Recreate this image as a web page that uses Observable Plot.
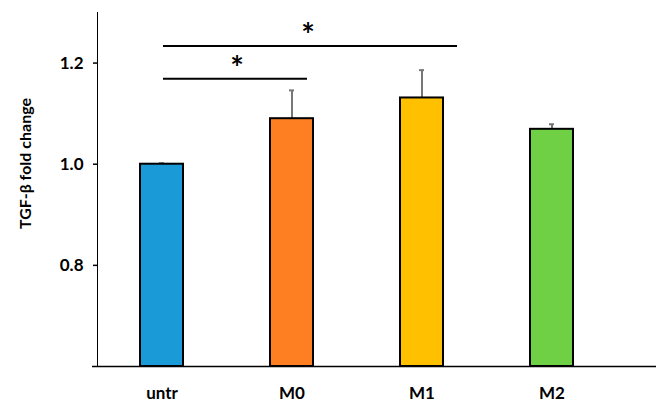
<!DOCTYPE html>
<html>
<head>
<meta charset="utf-8">
<script src="https://cdn.jsdelivr.net/npm/d3@7"></script>
<script src="https://cdn.jsdelivr.net/npm/@observablehq/plot@0.6"></script>
<style>
  html, body { margin: 0; padding: 0; background: #fff; }
  #chart svg { font-family: Lato, "Open Sans", sans-serif; }
  #chart svg text { font-weight: bold; fill: #000; }
  #chart [aria-label^="y-axis"] text, #chart [aria-label^="y-axis"] { font-size: 17px; }
  #chart [aria-label^="x-axis"] text, #chart [aria-label^="x-axis"] { font-size: 17px; }
  #chart [aria-label^="y-axis"] line, #chart [aria-label^="y-axis"] path { stroke: #000; stroke-width: 1.5px; }
</style>
</head>
<body>
<div id="chart"></div>
<script>
const categories = ["untr", "M0", "M1", "M2"];
const values = [1.0, 1.09, 1.131, 1.069];
const errors = [0.002, 0.056, 0.055, 0.01];
const colors = ["#1A9BD7", "#FD7F22", "#FFC000", "#6FCF45"];
const yTicks = [0.8, 1.0, 1.2];
const yDomain = [0.6, 1.3];
const yLabel = "TGF-β fold change";
const sigFrom = ["untr", "untr"];
const sigTo = ["M0", "M1"];
const sigY = [1.169, 1.234];
const sigLabel = ["*", "*"];

const data = categories.map((c, i) => ({cat: c, value: values[i], err: errors[i], color: colors[i]}));
const sig = sigFrom.map((f, i) => ({from: f, to: sigTo[i], y: sigY[i], label: sigLabel[i]}));

const chart = Plot.plot({
  width: 656,
  height: 406,
  marginLeft: 97,
  marginRight: 40,
  marginTop: 12,
  marginBottom: 40,
  style: {background: "#fff", overflow: "visible"},
  x: {domain: categories, paddingInner: 0.67, paddingOuter: 0.33, label: null, tickSize: 0, tickPadding: 20},
  y: {domain: yDomain, ticks: yTicks, tickFormat: d3.format(".1f"), tickSize: 4, tickPadding: 10,
      line: true, label: null},
  marks: [
    Plot.text([yLabel], {frameAnchor: "left", textAnchor: "middle", rotate: -90, dx: -72, dy: -26, text: d => d, fontSize: 16, fontWeight: "bold", fill: "#000"}),
    Plot.ruleX(data, {x: "cat", y1: "value", y2: d => d.value + d.err, stroke: "#777", strokeWidth: 2}),
    Plot.tickY(data, {x: "cat", y: d => d.value + d.err, stroke: "#777", strokeWidth: 2, insetLeft: 19, insetRight: 19}),
    Plot.barY(data, {x: "cat", y1: yDomain[0], y2: "value", fill: "color", stroke: "#000", strokeWidth: 2}),
    Plot.ruleY([yDomain[0]], {stroke: "#000", strokeWidth: 1.5, insetLeft: -5, insetRight: -40}),
    Plot.ruleY(sig.slice(1), {x1: "from", x2: "to", y: "y", stroke: "#000", strokeWidth: 2, insetLeft: 23, insetRight: -14}),
    Plot.ruleY(sig.slice(0, 1), {x1: "from", x2: "to", y: "y", stroke: "#000", strokeWidth: 2, insetLeft: 23, insetRight: 6}),
    Plot.text(sig.slice(1), {x: "to", y: "y", text: "label", dx: -114, dy: -9, fontSize: 32, fontWeight: "bold", fill: "#000"}),
    Plot.text(sig.slice(0, 1), {x: "from", y: "y", text: "label", dx: 75, dy: -9, fontSize: 32, fontWeight: "bold", fill: "#000"})
  ]
});
document.getElementById("chart").appendChild(chart);
</script>
</body>
</html>
